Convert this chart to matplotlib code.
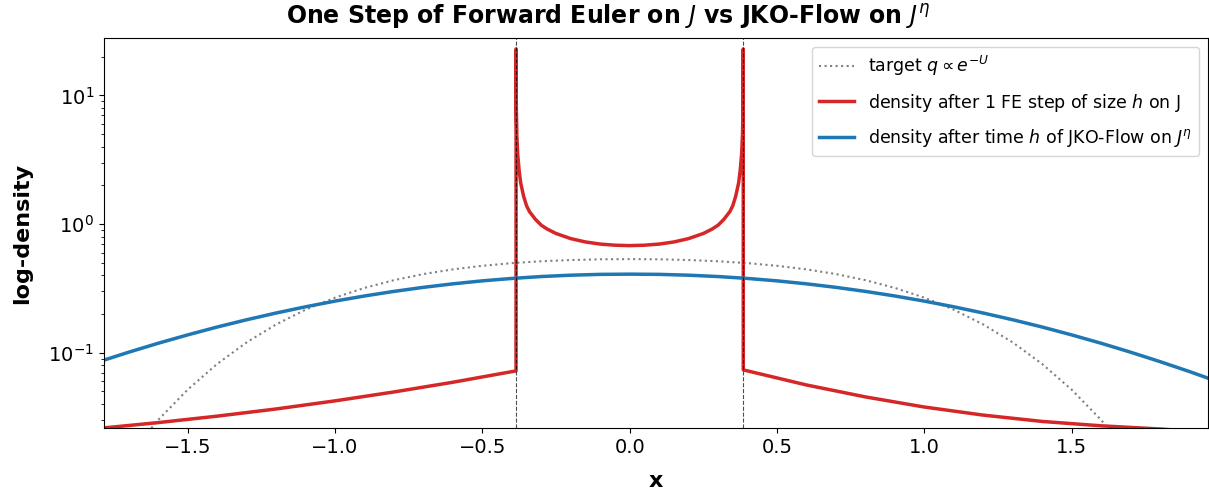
import numpy as np
import matplotlib.pyplot as plt

# target q ~ exp(-U)
x_target = [-1.80, -1.70, -1.60, -1.50, -1.40, -1.30, -1.20, -1.10, -1.00, -0.90,
            -0.80, -0.70, -0.60, -0.50, -0.40, -0.30, -0.20, -0.10, 0.00,
            0.10, 0.20, 0.30, 0.40, 0.50, 0.60, 0.70, 0.80, 0.90, 1.00,
            1.10, 1.20, 1.30, 1.40, 1.50, 1.60, 1.70, 1.80]
q_target = [0.0076, 0.0159, 0.0300, 0.0516, 0.0817, 0.1202, 0.1657, 0.2159, 0.2679, 0.3189,
            0.3663, 0.4087, 0.4445, 0.4738, 0.4969, 0.5139, 0.5254, 0.5322, 0.5340,
            0.5322, 0.5254, 0.5139, 0.4969, 0.4738, 0.4445, 0.4087, 0.3663, 0.3189, 0.2679,
            0.2159, 0.1657, 0.1202, 0.0817, 0.0516, 0.0300, 0.0159, 0.0076]

# density after one forward Euler step
x_fe = [-1.80, -1.60, -1.40, -1.20, -1.00, -0.80, -0.60, -0.3856,
        -0.3855, -0.385, -0.383, -0.380, -0.375, -0.370, -0.360, -0.350, -0.340,
        -0.320, -0.300, -0.280, -0.250, -0.200, -0.150, -0.100, -0.050, 0.000,
        0.050, 0.100, 0.150, 0.200, 0.250, 0.280, 0.300, 0.320, 0.340,
        0.350, 0.360, 0.370, 0.375, 0.380, 0.383, 0.385, 0.3855,
        0.3856, 0.60, 0.80, 1.00, 1.20, 1.40, 1.60, 1.80, 1.97]
rho_fe = [0.0258, 0.0286, 0.0321, 0.0365, 0.0422, 0.0495, 0.0589, 0.0722,
          23.0, 9.0, 5.0, 3.5, 2.6, 2.1, 1.65, 1.39, 1.25,
          1.09, 0.98, 0.915, 0.845, 0.771, 0.726, 0.699, 0.685, 0.680,
          0.685, 0.699, 0.726, 0.771, 0.845, 0.915, 0.98, 1.09, 1.25,
          1.39, 1.65, 2.1, 2.6, 3.5, 5.0, 9.0, 23.0,
          0.0735, 0.0561, 0.0453, 0.0378, 0.0327, 0.0292, 0.0270, 0.0255, 0.0240]

# density after time h of JKO flow
x_jko = [-1.80, -1.70, -1.60, -1.50, -1.40, -1.30, -1.20, -1.10, -1.00, -0.90,
         -0.80, -0.70, -0.60, -0.50, -0.40, -0.30, -0.20, -0.10, 0.00,
         0.10, 0.20, 0.30, 0.40, 0.50, 0.60, 0.70, 0.80, 0.90, 1.00,
         1.10, 1.20, 1.30, 1.40, 1.50, 1.60, 1.70, 1.80, 1.90, 1.97]
rho_jko = [0.0852, 0.1009, 0.1184, 0.1375, 0.1583, 0.1803, 0.2034, 0.2274, 0.2518, 0.2760,
           0.2996, 0.3222, 0.3430, 0.3619, 0.3778, 0.3909, 0.4004, 0.4064, 0.4080,
           0.4064, 0.4004, 0.3909, 0.3778, 0.3619, 0.3430, 0.3222, 0.2996, 0.2760, 0.2518,
           0.2274, 0.2034, 0.1803, 0.1583, 0.1375, 0.1184, 0.1009, 0.0852, 0.0713, 0.0625]

support_edge = 0.3855

fig = plt.figure(figsize=(12.09, 4.93), dpi=100)
ax = fig.add_axes([0.086, 0.132, 0.913, 0.791])

ax.plot(x_target, q_target, ':', color='gray', lw=1.5, label=r'target $q \propto e^{-U}$')
ax.plot(x_fe, rho_fe, color='#d62728', lw=2.5, label=r'density after 1 FE step of size $h$ on J')
ax.plot(x_jko, rho_jko, color='#1f77b4', lw=2.5,
        label=r'density after time $h$ of JKO-Flow on $J^\eta$')
ax.axvline(-support_edge, color='k', ls='--', lw=0.8, alpha=0.7)
ax.axvline(support_edge, color='k', ls='--', lw=0.8, alpha=0.7)

ax.set_yscale('log')
ax.set_xlim(-1.784, 1.962)
ax.set_ylim(0.026, 28)
ax.tick_params(labelsize=14)
ax.set_xlabel('x', fontsize=16, fontweight='bold', labelpad=10)
ax.set_ylabel('log-density', fontsize=16, fontweight='bold', labelpad=12)
fig.suptitle(r'One Step of Forward Euler on $J$ vs JKO-Flow on $J^\eta$',
             fontsize=17, fontweight='bold', x=0.503, y=0.995, va='top')
ax.legend(loc='upper right', fontsize=12.5, labelspacing=0.8)

fig.savefig('out.png', dpi=100)
